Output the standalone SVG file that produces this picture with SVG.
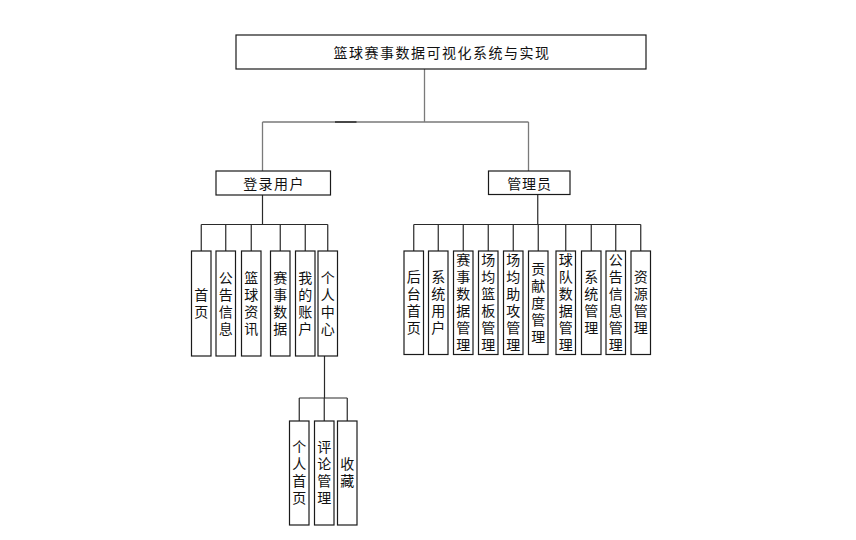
<svg xmlns="http://www.w3.org/2000/svg" width="856" height="540" viewBox="0 0 856 540">
<style>
.box{fill:#fff;stroke:#1a1a1a;stroke-width:1.2}
.ln{fill:none;stroke:#2a2a2a;stroke-width:1.2}
.lg{fill:none;stroke:#7a7a7a;stroke-width:1.3}
text{font-family:"Noto Sans CJK SC","Liberation Sans",sans-serif;font-size:14px;fill:#111;text-anchor:middle;dominant-baseline:central}
.v{writing-mode:vertical-rl;letter-spacing:3px}
</style>
<rect width="856" height="540" fill="#fff"/>
<g id="connectors">
<path class="lg" d="M424.5 69V122M262.5 122H528.5M262.5 122V171M528.5 122V171"/>
<path d="M335 122H356.5" stroke="#333" stroke-width="1.6"/>
<path class="ln" d="M262.5 195V224.5M201.25 224.5H327.75M201.25 224.5V251M225.75 224.5V251M251.25 224.5V251M280.25 224.5V251M305.25 224.5V251M327.75 224.5V251"/>
<path class="ln" d="M537.75 194.5V224.5M413.75 224.5H640.75M413.75 224.5V251M438.25 224.5V251M463.25 224.5V251M488.25 224.5V251M513.25 224.5V251M538.25 224.5V251M565.75 224.5V251M591.25 224.5V251M615.75 224.5V251M640.75 224.5V251"/>
<path class="ln" d="M324.5 356V398M299.25 398H347.25M299.25 398V421M324.25 398V421M347.25 398V421"/>
</g>
<g id="root"><rect class="box" x="236" y="35" width="410" height="34"/><text x="442" y="52" letter-spacing="1.5">篮球赛事数据可视化系统与实现</text></g>
<g id="user"><rect class="box" x="216" y="171" width="114.5" height="24"/><text x="274" y="183" letter-spacing="1.4">登录用户</text></g>
<g id="admin"><rect class="box" x="488.5" y="171" width="81.5" height="23.5"/><text x="529.5" y="183" letter-spacing="0.8">管理员</text></g>

<g id="u1"><rect class="box" x="191.5" y="251" width="19.5" height="105"/><text class="v" x="201.25" y="305">首页</text></g>
<g id="u2"><rect class="box" x="216" y="251" width="19.5" height="105"/><text class="v" x="225.75" y="305">公告信息</text></g>
<g id="u3"><rect class="box" x="241.5" y="251" width="19.5" height="105"/><text class="v" x="251.25" y="305">篮球资讯</text></g>
<g id="u4"><rect class="box" x="270.5" y="251" width="19.5" height="105"/><text class="v" x="280.25" y="305">赛事数据</text></g>
<g id="u5"><rect class="box" x="295.5" y="251" width="19.5" height="105"/><text class="v" x="305.25" y="305">我的账户</text></g>
<g id="u6"><rect class="box" x="318" y="251" width="19.5" height="105"/><text class="v" x="327.75" y="305">个人中心</text></g>

<g id="a1"><rect class="box" x="404" y="251" width="19.5" height="103.5"/><text class="v" x="413.75" y="304">后台首页</text></g>
<g id="a2"><rect class="box" x="428.5" y="251" width="19.5" height="103.5"/><text class="v" x="438.25" y="304">系统用户</text></g>
<g id="a3"><rect class="box" x="453.5" y="251" width="19.5" height="103.5"/><text class="v" x="463.25" y="304">赛事数据管理</text></g>
<g id="a4"><rect class="box" x="478.5" y="251" width="19.5" height="103.5"/><text class="v" x="488.25" y="304">场均篮板管理</text></g>
<g id="a5"><rect class="box" x="503.5" y="251" width="19.5" height="103.5"/><text class="v" x="513.25" y="304">场均助攻管理</text></g>
<g id="a6"><rect class="box" x="528.5" y="251" width="19.5" height="103.5"/><text class="v" x="538.25" y="304">贡献度管理</text></g>
<g id="a7"><rect class="box" x="556" y="251" width="19.5" height="103.5"/><text class="v" x="565.75" y="304">球队数据管理</text></g>
<g id="a8"><rect class="box" x="581.5" y="251" width="19.5" height="103.5"/><text class="v" x="591.25" y="304">系统管理</text></g>
<g id="a9"><rect class="box" x="606" y="251" width="19.5" height="103.5"/><text class="v" x="615.75" y="304">公告信息管理</text></g>
<g id="a10"><rect class="box" x="631" y="251" width="19.5" height="103.5"/><text class="v" x="640.75" y="304">资源管理</text></g>

<g id="p1"><rect class="box" x="289.5" y="421" width="19.5" height="104"/><text class="v" x="299.25" y="474">个人首页</text></g>
<g id="p2"><rect class="box" x="314.5" y="421" width="19.5" height="104"/><text class="v" x="324.25" y="474">评论管理</text></g>
<g id="p3"><rect class="box" x="337.5" y="421" width="19.5" height="104"/><text class="v" x="347.25" y="474">收藏</text></g>
</svg>
